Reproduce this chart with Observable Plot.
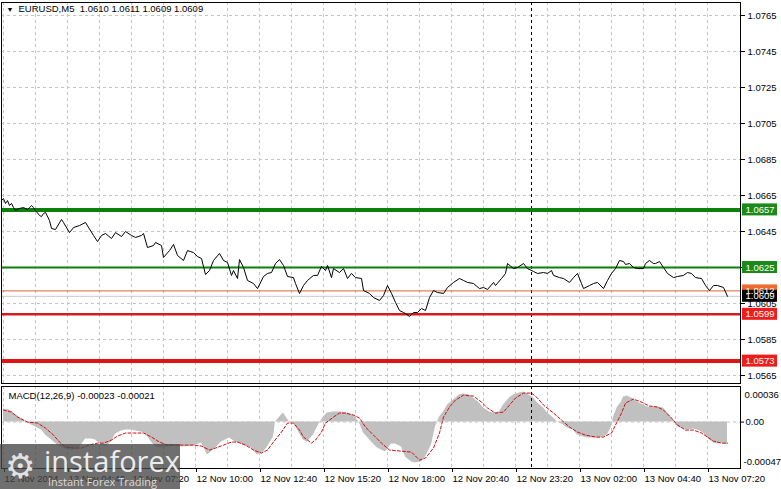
<!DOCTYPE html>
<html><head><meta charset="utf-8">
<script src="https://cdn.jsdelivr.net/npm/d3@7"></script>
<script src="https://cdn.jsdelivr.net/npm/@observablehq/plot@0.6"></script>
<style>
html,body{margin:0;padding:0;background:#fff;}
#chart{position:relative;width:781px;height:489px;overflow:hidden;font-family:"Liberation Sans",Arial,sans-serif;}
#main{position:absolute;left:0;top:0;}
#macd{position:absolute;left:0;top:385px;}
#wm{position:absolute;left:0;top:444px;width:180px;height:45px;background:rgba(70,70,70,0.78);}
#wm span{position:absolute;white-space:nowrap;}
#wm .gear{left:5px;top:5px;font-size:34px;line-height:34px;color:#e2e2e2;font-family:"DejaVu Sans";}
#wm .brand{left:44px;top:2px;font-size:29px;line-height:30px;color:#ececec;font-family:"Open Sans",sans-serif;}
#wm .tag{left:48px;top:32px;font-size:11px;line-height:12px;color:#dcdcdc;font-family:"Open Sans",sans-serif;}
</style></head>
<body>
<div id="chart">
  <div id="main"></div>
  <div id="macd"></div>
  <div id="wm"><span class="gear">⚙</span><span class="brand">instaforex</span><span class="tag">Instant Forex Trading</span></div>
</div>
<script>
// ---- data (bar index = 5-minute bars counted from 12 Nov 02:00) ----
const priceBars = [
  -1,0,1,2,3,4,5,6,8,10,
  12,13,14,15,16,18,19,20,21,23,
  24,26,29,30,33,35,38,41,45,47,
  49,51,54,56,59,61,64,66,69,70,
  72,75,76,79,80,83,85,87,90,92,
  95,97,99,101,103,105,108,110,112,114,
  115,117,118,120,122,125,127,130,132,134,
  136,138,140,142,145,146,148,150,152,155,
  157,159,161,162,164,165,168,170,172,174,
  176,179,180,183,185,188,190,192,194,196,
  198,200,201,203,205,207,209,211,213,215,
  217,220,222,225,228,230,232,235,238,240,
  242,245,246,249,251,252,255,257,260,262,
  265,267,270,272,274,275,278,280,283,285,
  287,289,290,293,295,297,300,302,304,306,
  308,310,311,313,315,317,320,321,323,325,
  326,328,330,332,335,337,340,342,344,346,
  349,351,353,355,357,360,362
];
const priceCloses = [
  1.06622,1.06633,1.06606,1.06622,1.06594,1.06606,1.06583,1.06567,1.06578,1.06583,
  1.06572,1.06583,1.06594,1.06583,1.06567,1.06539,1.06533,1.06550,1.06556,1.06511,
  1.06467,1.06461,1.06517,1.06500,1.06444,1.06472,1.06483,1.06500,1.06428,1.06394,
  1.06428,1.06439,1.06411,1.06444,1.06422,1.06450,1.06428,1.06417,1.06428,1.06439,
  1.06361,1.06372,1.06389,1.06372,1.06306,1.06344,1.06378,1.06317,1.06289,1.06344,
  1.06333,1.06311,1.06300,1.06211,1.06233,1.06289,1.06328,1.06289,1.06278,1.06206,
  1.06233,1.06189,1.06294,1.06250,1.06178,1.06161,1.06133,1.06200,1.06217,1.06222,
  1.06272,1.06294,1.06261,1.06200,1.06194,1.06161,1.06106,1.06150,1.06178,1.06206,
  1.06206,1.06256,1.06233,1.06261,1.06194,1.06244,1.06222,1.06244,1.06189,1.06217,
  1.06194,1.06189,1.06122,1.06106,1.06083,1.06067,1.06094,1.06150,1.06106,1.06056,
  1.06011,1.06000,1.05994,1.05978,1.06000,1.06000,1.06022,1.06011,1.06083,1.06122,
  1.06111,1.06106,1.06139,1.06167,1.06189,1.06178,1.06167,1.06161,1.06133,1.06139,
  1.06128,1.06167,1.06150,1.06189,1.06217,1.06272,1.06244,1.06250,1.06272,1.06244,
  1.06228,1.06217,1.06222,1.06217,1.06233,1.06206,1.06194,1.06189,1.06167,1.06194,
  1.06217,1.06161,1.06133,1.06150,1.06161,1.06167,1.06133,1.06178,1.06217,1.06244,
  1.06289,1.06283,1.06267,1.06272,1.06250,1.06244,1.06244,1.06272,1.06289,1.06272,
  1.06272,1.06283,1.06250,1.06217,1.06194,1.06200,1.06206,1.06222,1.06217,1.06194,
  1.06189,1.06150,1.06122,1.06150,1.06150,1.06139,1.06090
];
const macdBars = [
  0,3,5,7,10,12,15,19,21,24,
  27,30,32,35,38,41,44,46,49,51,
  54,56,59,61,64,66,69,71,74,76,
  79,82,86,90,95,99,102,105,109,113,
  116,120,124,127,130,132,135,136,139,140,
  143,145,147,150,152,155,158,160,162,165,
  169,172,175,178,180,184,187,191,194,196,
  199,201,204,206,209,211,214,216,218,220,
  222,225,228,230,233,235,238,240,243,245,
  248,250,253,255,258,260,262,265,267,270,
  272,275,277,280,282,285,287,290,292,295,
  297,300,302,304,305,307,309,310,312,315,
  317,320,322,325,327,330,332,335,337,340,
  342,345,347,350,352,355,357,360,362
];
const macdValues = [
  0.000132,0.000121,0.000091,0.000061,0.00002,-0.00001,-0.00004,-0.000081,-0.000132,-0.000182,
  -0.000233,-0.000263,-0.000283,-0.000283,-0.000263,-0.000172,-0.000172,-0.000182,-0.000233,-0.000253,
  -0.000202,-0.000121,-0.000091,-0.000081,-0.000081,-0.000091,-0.000101,-0.000121,-0.000202,-0.000253,
  -0.000263,-0.000253,-0.000243,-0.000253,-0.000243,-0.000213,-0.000334,-0.000283,-0.000202,-0.000162,
  -0.000202,-0.000233,-0.000263,-0.000334,-0.000304,-0.000253,-0.000152,0,0.000071,0.000091,
  0,-0.00001,-0.000081,-0.000182,-0.000202,-0.000132,-0.00001,0.000051,0.000091,0.000101,
  0.000101,0.000091,0.000071,-0.00001,-0.000111,-0.000202,-0.000263,-0.000304,-0.000223,-0.000223,
  -0.000253,-0.000354,-0.000405,-0.000415,-0.000405,-0.000354,-0.000233,-0.000051,0.000051,0.000101,
  0.000172,0.000223,0.000273,0.000283,0.000273,0.000243,0.000192,0.000142,0.000101,0.000091,
  0.000101,0.000172,0.000243,0.000273,0.000293,0.000304,0.000283,0.000243,0.000192,0.000142,
  0.000091,0.00004,0,-0.00003,-0.000061,-0.000081,-0.000132,-0.000152,-0.000162,-0.000162,
  -0.000162,-0.000152,-0.000132,-0.000051,0.000051,0.000152,0.000202,0.000253,0.000263,0.000233,
  0.000202,0.000172,0.000152,0.000152,0.000152,0.000142,0.000091,0.00002,-0.000051,-0.000071,
  -0.000081,-0.000071,-0.000081,-0.000111,-0.000162,-0.000213,-0.000223,-0.000213,-0.000233
];
const signalBars = [
  0,4,7,12,17,21,25,28,31,35,
  39,43,47,50,54,57,61,65,70,74,
  78,82,86,90,95,99,103,106,110,114,
  117,121,125,129,132,135,139,142,145,148,
  150,154,156,159,161,165,168,171,175,178,
  181,185,189,193,204,208,211,215,218,
  220,223,226,230,235,239,242,246,250,253,
  256,260,264,267,270,275,279,283,287,291,
  296,300,304,306,309,311,315,319,323,327,
  330,334,337,341,345,349,352,355,359,362
];
const signalValues = [
  0.000121,0.000101,0.000051,0,-0.00001,-0.000061,-0.000132,-0.000202,-0.000253,-0.000263,
  -0.000263,-0.000233,-0.000213,-0.000213,-0.000182,-0.000142,-0.000111,-0.000111,-0.000111,-0.000152,
  -0.000202,-0.000233,-0.000233,-0.000233,-0.000233,-0.000243,-0.000283,-0.000263,-0.000233,-0.000202,
  -0.000202,-0.000233,-0.000283,-0.000314,-0.000283,-0.000202,-0.000101,-0.00001,-0.00001,-0.000081,
  -0.000152,-0.000213,-0.000182,-0.000101,-0.00001,0.000051,0.000091,0.000091,0.000071,0.00004,
  -0.000051,-0.000132,-0.000213,-0.000283,-0.000304,-0.000385,-0.000364,-0.000263,-0.000111,
  0.000051,0.000152,0.000223,0.000273,0.000263,0.000202,0.000142,0.000091,0.000101,0.000172,
  0.000243,0.000293,0.000293,0.000243,0.000172,0.000091,0.00002,-0.000051,-0.000101,-0.000132,
  -0.000152,-0.000152,-0.000111,-0.00003,0.000091,0.000192,0.000233,0.000202,0.000162,0.000152,
  0.000121,0.00004,-0.00003,-0.000081,-0.000081,-0.000111,-0.000152,-0.000192,-0.000213,-0.000213
];
const priceTicks = [1.0565,1.0585,1.0605,1.0625,1.0645,1.0665,1.0685,1.0705,1.0725,1.0745,1.0765];
const levelValues = [1.0657, 1.0625, 1.0612, 1.0609, 1.0599, 1.0573];
const levelNames = ["resistance2","resistance1","ask","bid","support1","support2"];
const timeTickBars = [0,32,64,96,128,160,192,224,256,288,320,352];
const timeTickLabels = ["12 Nov 2024","12 Nov 04:40","12 Nov 07:20","12 Nov 10:00","12 Nov 12:40","12 Nov 15:20",
  "12 Nov 18:00","12 Nov 20:40","12 Nov 23:20","13 Nov 02:00","13 Nov 04:40","13 Nov 07:20"];
const gridBars = [0,16,32,48,64,80,96,112,128,144,160,176,192,208,224,240,256,272,288,304,320,336,352];
const daySeparatorBar = 264;
const macdScaleValues = [0.00036, 0, -0.00047];
const macdScaleLabels = ["0.00036", "0.00", "-0.00047"];
const titleText = "EURUSD,M5\u00a0 1.0610 1.0611 1.0609 1.0609";
const macdTitle = "MACD(12,26,9) -0.00023 -0.00021";

// ---- build ----
const priceData = priceBars.map((b, i) => ({bar: b, close: priceCloses[i]}));
const macdData = macdBars.map((b, i) => ({bar: b, v: macdValues[i]}));
const signalData = signalBars.map((b, i) => ({bar: b, v: signalValues[i]}));
const levelStyle = {
  resistance2: {line: "#0b800b", width: 4, box: "#1a8a1a", text: "#fff"},
  resistance1: {line: "#0b800b", width: 2, box: "#1a8a1a", text: "#fff"},
  ask: {line: "#d8653c", width: 1, box: "#ee6a30", text: "#fff"},
  bid: {line: "#c8c8c8", width: 1, box: "#000", text: "#fff"},
  support1: {line: "#d41c1c", width: 2.5, box: "#ee1c1c", text: "#fff"},
  support2: {line: "#e01414", width: 4, box: "#ee1c1c", text: "#fff"}
};
const levelData = levelValues.map((v, i) => ({v, name: levelNames[i]}));
const X_DOMAIN = [-1, 368.5];
const PX_PER_PRICE = 18000;
const fmt4 = d3.format(".4f");
const labelMap = new Map(timeTickBars.map((b, i) => [b, timeTickLabels[i]]));
const baseStyle = {fontFamily: "'Liberation Sans', Arial, sans-serif", fontSize: "9.5px", background: "transparent", overflow: "visible", color: "#000"};
const grid = {stroke: "#c4c4c4", strokeDasharray: "3,3", strokeWidth: 1};
// the 1.0625 price label sits fully under its level box in the reference
const shownPriceTicks = priceTicks.filter(t => t !== 1.0625);

const main = Plot.plot({
  width: 781, height: 385,
  marginTop: 2, marginBottom: 2, marginLeft: 1, marginRight: 41,
  x: {domain: X_DOMAIN, axis: null},
  y: {domain: [1.056056, 1.077222], axis: null},
  style: baseStyle,
  marks: [
    Plot.ruleY(priceTicks, grid),
    Plot.ruleX(gridBars, grid),
    Plot.ruleX([daySeparatorBar], {stroke: "#000", strokeDasharray: "3,3"}),
    ...levelData.map(d => Plot.ruleY([d.v], {stroke: levelStyle[d.name].line, strokeWidth: levelStyle[d.name].width})),
    Plot.line(priceData, {x: "bar", y: "close", stroke: "#000", strokeWidth: 1}),
    Plot.axisY({anchor: "right", ticks: priceTicks, tickFormat: null, text: null, tickSize: 4, label: null}),
    Plot.axisY({anchor: "right", ticks: shownPriceTicks, tickFormat: fmt4, tickSize: 0, tickPadding: 7, fill: "#000", label: null}),
    ...levelData.map(d => Plot.rect([d], {
      x1: 369.5, x2: 387,
      y1: r => r.v - 6 / PX_PER_PRICE, y2: r => r.v + 6 / PX_PER_PRICE,
      fill: levelStyle[d.name].box
    })),
    ...levelData.map(d => Plot.text([d], {
      x: 369.5, y: "v", text: r => fmt4(r.v), dx: 3, textAnchor: "start",
      fill: levelStyle[d.name].text
    })),
    Plot.frame({stroke: "#000"}),
    Plot.text(["▼"], {frameAnchor: "top-left", dx: 5, dy: 5, fontSize: 7, lineAnchor: "top", textAnchor: "start", fill: "#000"}),
    Plot.text([titleText], {frameAnchor: "top-left", dx: 17, dy: 3, lineAnchor: "top", textAnchor: "start", fill: "#000"})
  ]
});
document.getElementById("main").appendChild(main);

const macd = Plot.plot({
  width: 781, height: 104,
  marginTop: 1, marginBottom: 21, marginLeft: 1, marginRight: 41,
  x: {domain: X_DOMAIN, axis: null},
  y: {domain: [-0.00047, 0.00036], axis: null},
  style: baseStyle,
  marks: [
    Plot.ruleX(gridBars, grid),
    Plot.ruleY([0], grid),
    Plot.areaY(macdData, {x: "bar", y: "v", fill: "#c0c0c0"}),
    Plot.ruleX([daySeparatorBar], {stroke: "#000", strokeDasharray: "3,3"}),
    Plot.line(signalData, {x: "bar", y: "v", stroke: "#cc1111", strokeWidth: 1, strokeDasharray: "3,2"}),
    Plot.frame({stroke: "#000"}),
    Plot.axisX({ticks: timeTickBars, tickFormat: d => labelMap.get(d), tickSize: 4, tickPadding: 3, textAnchor: "start", dx: 1, fill: "#000", label: null}),
    Plot.ruleY([0], {x1: 368.5, x2: 370.5, stroke: "#000"}),
    Plot.text([macdScaleValues[0]], {x: 368.5, y: d => d, text: () => macdScaleLabels[0], dx: 4, dy: 8, textAnchor: "start", fill: "#000"}),
    Plot.text([macdScaleValues[1]], {x: 368.5, y: d => d, text: () => macdScaleLabels[1], dx: 5, textAnchor: "start", fill: "#000"}),
    Plot.text([macdScaleValues[2]], {x: 368.5, y: d => d, text: () => macdScaleLabels[2], dx: 3, dy: -7, textAnchor: "start", fill: "#000"}),
    Plot.text([macdTitle], {frameAnchor: "top-left", dx: 7, dy: 6, lineAnchor: "top", textAnchor: "start", fill: "#000"})
  ]
});
document.getElementById("macd").appendChild(macd);
</script>
</body></html>
